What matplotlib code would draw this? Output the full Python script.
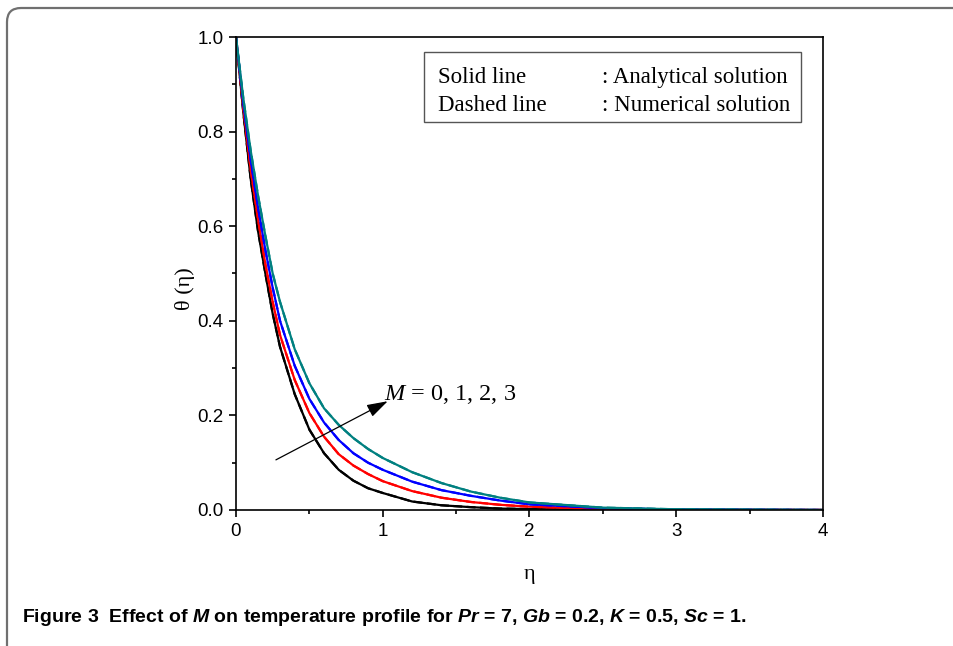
import numpy as np
import matplotlib
matplotlib.use('Agg')
import matplotlib.pyplot as plt
from matplotlib import font_manager
from matplotlib.patches import FancyBboxPatch, Rectangle
from matplotlib.ticker import MultipleLocator

# eta grid and temperature profiles
eta = [0.0, 0.05, 0.1, 0.15, 0.2, 0.25, 0.3, 0.4, 0.5, 0.6, 0.7, 0.8, 0.9, 1.0,
       1.2, 1.4, 1.6, 1.8, 2.0, 2.5, 3.0, 4.0]
theta_m0 = [1.0, 0.84, 0.70, 0.59, 0.50, 0.415, 0.345, 0.245, 0.17, 0.12, 0.085, 0.062,
            0.046, 0.036, 0.018, 0.010, 0.006, 0.003, 0.002, 0.0005, 0.0, 0.0]
theta_m1 = [1.0, 0.85, 0.72, 0.615, 0.52, 0.44, 0.37, 0.275, 0.205, 0.155, 0.118, 0.094,
            0.076, 0.061, 0.040, 0.026, 0.017, 0.011, 0.007, 0.002, 0.0005, 0.0]
theta_m2 = [1.0, 0.86, 0.74, 0.64, 0.55, 0.47, 0.40, 0.305, 0.235, 0.185, 0.148, 0.12,
            0.10, 0.085, 0.060, 0.042, 0.030, 0.020, 0.012, 0.004, 0.001, 0.0]
theta_m3 = [1.0, 0.87, 0.76, 0.665, 0.58, 0.50, 0.44, 0.34, 0.268, 0.215, 0.18, 0.152,
            0.129, 0.11, 0.080, 0.057, 0.039, 0.026, 0.016, 0.005, 0.0015, 0.0]

curves = [theta_m0, theta_m1, theta_m2, theta_m3]
colors = ['black', '#ff0000', '#0000ff', '#008080']

x_ticks = [0, 1, 2, 3, 4]
y_ticks = [0.0, 0.2, 0.4, 0.6, 0.8, 1.0]

available = {f.name for f in font_manager.fontManager.ttflist}
cap_font = 'Liberation Sans Narrow' if 'Liberation Sans Narrow' in available else 'Liberation Sans'
serif = 'Liberation Serif'
sans = 'Liberation Sans'

plt.rcParams['mathtext.fontset'] = 'custom'
plt.rcParams['mathtext.bfit'] = cap_font + ':bold:italic'
plt.rcParams['mathtext.it'] = serif + ':italic'
plt.rcParams['mathtext.rm'] = serif

W, H = 954, 646
fig = plt.figure(figsize=(W / 100, H / 100), dpi=100)
ax = fig.add_axes([236 / W, 1 - 510 / H, (823 - 236) / W, (510 - 37) / H])

for th, c in zip(curves, colors):
    ax.plot(eta, th, color=c, lw=1.6, solid_joinstyle='round')
    ax.plot(eta, th, color=c, lw=1.6, ls='--', dashes=(4, 2))

ax.set_xlim(0, 4)
ax.set_ylim(0, 1)
ax.set_xticks(x_ticks)
ax.set_yticks(y_ticks)
ax.set_xticklabels([str(t) for t in x_ticks])
ax.set_yticklabels(['%.1f' % t for t in y_ticks])
ax.xaxis.set_minor_locator(MultipleLocator(0.5))
ax.yaxis.set_minor_locator(MultipleLocator(0.1))
ax.tick_params(which='both', direction='out', width=1.2, top=False, right=False)
ax.tick_params(which='major', length=5, pad=4, labelsize=13.5)
ax.tick_params(which='minor', length=3)
for lab in ax.get_xticklabels() + ax.get_yticklabels():
    lab.set_fontfamily(sans)
for sp in ax.spines.values():
    sp.set_linewidth(1.2)

# legend box with solid/dashed explanation
ax.add_patch(Rectangle((0.320, 0.820), 0.6425, 0.148, transform=ax.transAxes,
                       fill=False, ec='#555555', lw=1.0))
ax.text(0.344, 0.914, 'Solid line', transform=ax.transAxes, family=serif,
        fontsize=16.5, va='center')
ax.text(0.344, 0.855, 'Dashed line', transform=ax.transAxes, family=serif,
        fontsize=16.5, va='center')
ax.text(0.6235, 0.914, ': Analytical solution', transform=ax.transAxes, family=serif,
        fontsize=16.5, va='center')
ax.text(0.6235, 0.855, ': Numerical solution', transform=ax.transAxes, family=serif,
        fontsize=16.5, va='center')

# arrow showing increasing M
ax.annotate('', xy=(1.034, 0.230), xytext=(0.272, 0.106),
            arrowprops=dict(arrowstyle='-|>,head_length=0.8,head_width=0.25',
                            color='black', lw=0.9,
                            mutation_scale=16, shrinkA=0, shrinkB=0))
ax.text(1.01, 0.245, r'$\mathit{M}$ = 0, 1, 2, 3', family=serif, fontsize=17.5,
        va='center', ha='left')

fig.text(185 / W, 1 - 289 / H, 'θ (η)', family=serif, fontsize=16, rotation=90,
         ha='center', va='center')
fig.text(530 / W, 1 - 575 / H, 'η', family=serif, fontsize=16,
         ha='center', va='center')

caption = (r'Figure 3  Effect of $\mathbfit{M}$ on temperature profile for '
           r'$\mathbfit{Pr}$ = 7, $\mathbfit{Gb}$ = 0.2, $\mathbfit{K}$ = 0.5, $\mathbfit{Sc}$ = 1.')
fig.text(22 / W, 1 - 617 / H, caption, family=cap_font, weight='bold', fontsize=14,
         ha='left', va='center')

# rounded frame around the figure
frame = FancyBboxPatch((7, -40), 1000, H - 8 + 40, boxstyle='round,pad=0,rounding_size=14',
                       transform=None, fill=False, ec='#707070', lw=1.6)
fig.patches.append(frame)

fig.savefig('out.png', dpi=100)
